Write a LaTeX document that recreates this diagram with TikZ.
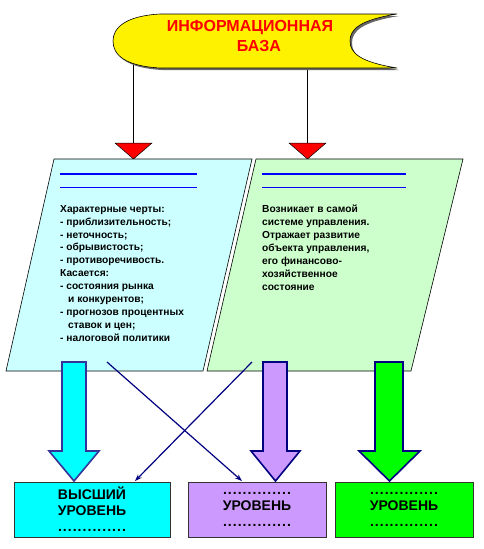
\documentclass[tikz,border=0pt]{standalone}
\usepackage{fontspec}
\setmainfont{Liberation Sans}
\usepackage{tikz}
\usetikzlibrary{arrows.meta}

\definecolor{navyline}{RGB}{0,0,128}
\definecolor{cyanedge}{RGB}{51,51,153}
\definecolor{paleblue}{RGB}{204,255,255}
\definecolor{palegreen}{RGB}{204,255,204}
\definecolor{lavender}{RGB}{204,153,255}
\definecolor{brightcyan}{RGB}{0,255,255}
\definecolor{brightgreen}{RGB}{0,255,0}

\newcommand{\dotrow}{\makebox[69pt]{\xleaders\hbox to 4.9pt{\hss.\hss}\hfill}}

\begin{document}
\begin{tikzpicture}[x=1pt,y=-1pt,
    infotext/.style={anchor=north west, inner sep=0pt, align=left,
      font=\bfseries\fontsize{10.2}{12.9}\selectfont},
    levelbox/.style={draw=black!80, line width=0.8pt, minimum width=156pt,
      minimum height=55pt, inner sep=0pt, align=center,
      font=\bfseries\fontsize{14}{16}\selectfont},
    blockarrow/.style={line width=1.6pt, draw=navyline, line join=miter},
    crossline/.style={navyline, line width=1.2pt, -{Stealth[length=7pt,width=5pt]}},
    redtip/.style={fill=red, draw=black, line width=0.5pt}]
\useasboundingbox (0,0) rectangle (483,549);

% feed lines from the banner
\coordinate (feedL) at (133,50);
\coordinate (feedR) at (307,60);
\coordinate (tipL) at (133,143);
\coordinate (tipR) at (307,143);
\draw[line width=0.7pt] (feedL) -- (tipL);
\draw[line width=0.7pt] (feedR) -- (tipR);

% banner
\fill[black!60] (162,16) -- (399,16) .. controls (362,22) and (352,31) .. (352,43)
  .. controls (352,55) and (362,64) .. (399,70) -- (162,70)
  .. controls (127,68) and (115,57) .. (115,43) .. controls (115,30) and (127,18) .. (162,16);
\draw[fill=yellow, line width=0.6pt] (160,14) -- (397,14) .. controls (360,20) and (350,29) .. (350,41)
  .. controls (350,53) and (360,62) .. (397,68) -- (160,68)
  .. controls (125,66) and (113,55) .. (113,41) .. controls (113,28) and (125,16) .. (160,14);
\node[red, font=\bfseries\fontsize{16}{19.5}\selectfont, align=center] (infobase) at (250,36)
  {ИНФОРМАЦИОННАЯ\\\hspace*{18pt}БАЗА};

% red arrowheads
\draw[redtip] (115,143) -- (152,143) -- (133.5,159) -- cycle;
\draw[redtip] (289,143) -- (326,143) -- (307.5,159) -- cycle;

% the two sources
\draw[fill=paleblue, line width=0.6pt] (54,159) -- (252,159) -- (203,371) -- (6,371) -- cycle;
\draw[fill=palegreen, line width=0.6pt] (256,159) -- (463,159) -- (411,371) -- (207,371) -- cycle;

\draw[blue, line width=1.6pt] (60,174) -- (197,174);
\draw[blue, line width=0.8pt] (60,187) -- (197,187);
\draw[blue, line width=1.6pt] (262,174) -- (406,174);
\draw[blue, line width=0.8pt] (262,187) -- (406,187);

\node[infotext] (external) at (60,205) {Характерные черты:\\
  - приблизительность;\\
  - неточность;\\
  - обрывистость;\\
  - противоречивость.\\
  Касается:\\
  - состояния рынка\\
  \hspace*{8pt}и конкурентов;\\
  - прогнозов процентных\\
  \hspace*{8pt}ставок и цен;\\
  - налоговой политики};
\node[infotext] (internal) at (262,205) {Возникает в самой\\
  системе управления.\\
  Отражает развитие\\
  объекта управления,\\
  его финансово-\\
  хозяйственное\\
  состояние};

% levels
\node[levelbox, fill=brightcyan] (top) at (92,509.5) {ВЫСШИЙ\\УРОВЕНЬ\\\dotrow};
\node[levelbox, fill=lavender, minimum width=138pt] (middle) at (257,509.5) {\dotrow\\УРОВЕНЬ\\\dotrow};
\node[levelbox, fill=brightgreen, minimum width=138pt] (lower) at (404,509.5) {\dotrow\\УРОВЕНЬ\\\dotrow};

% block arrows
\draw[blockarrow, draw=cyanedge, fill=brightcyan] (62,362) -- (86,362) -- (86,451) -- (99,451)
  -- (74,481) -- (49,451) -- (62,451) -- cycle;
\draw[blockarrow, fill=lavender] (263,362) -- (287,362) -- (287,451) -- (300,451)
  -- (275.5,481) -- (251,451) -- (263,451) -- cycle;
\draw[blockarrow, fill=brightgreen] (375,362) -- (403,362) -- (403,451) -- (420,451)
  -- (389.5,481) -- (359,451) -- (375,451) -- cycle;

% crossing links
\coordinate (fromL) at (107,362);
\coordinate (fromR) at (252,362);
\coordinate (intoMid) at (242,481);
\coordinate (intoTop) at (135,481);
\draw[crossline] (fromL) -- (intoMid);
\draw[crossline] (fromR) -- (intoTop);
\end{tikzpicture}
\end{document}
